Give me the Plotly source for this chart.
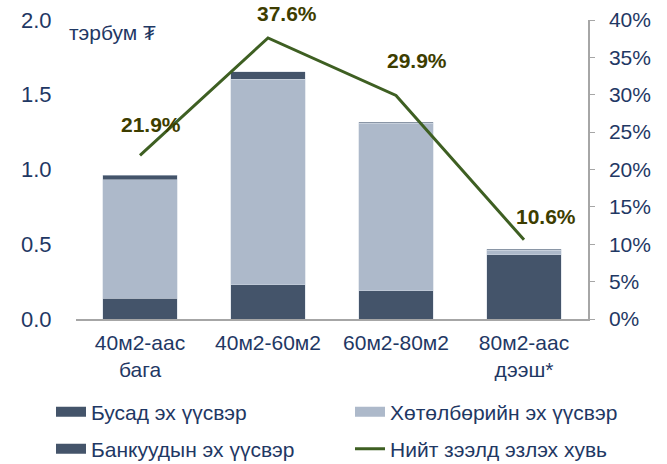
import plotly.graph_objects as go

categories = ["40м2-аас<br>бага", "40м2-60м2", "60м2-80м2", "80м2-аас<br>дээш*"]
bank_src = [0.14, 0.23, 0.19, 0.43]
program_src = [0.79, 1.375, 1.12, 0.03]
other_src = [0.03, 0.05, 0.006, 0.008]
share_pct = [0.219, 0.376, 0.299, 0.106]
share_labels = ["21.9%", "37.6%", "29.9%", "10.6%"]

names = {
    "other": "Бусад эх үүсвэр",
    "program": "Хөтөлбөрийн эх үүсвэр",
    "bank": "Банкуудын эх үүсвэр",
    "share": "Нийт зээлд эзлэх хувь",
}

DARK = "#44546a"
LIGHT = "#adb9ca"
GREEN = "#3e5f22"
LABEL = "#3d3d00"
NAVY = "#1f3864"
FONT = "Arial, Liberation Sans, sans-serif"

W, H = 667, 464

fig = go.Figure()
for vals, color in [(bank_src, DARK), (program_src, LIGHT), (other_src, DARK)]:
    fig.add_trace(go.Bar(x=categories, y=vals, marker=dict(color=color, line=dict(width=0.5, color="#d0d7e2")),
                         showlegend=False, yaxis="y", hoverinfo="skip"))

fig.add_trace(go.Scatter(x=categories, y=share_pct, mode="lines", line=dict(color=GREEN, width=3),
                         yaxis="y2", showlegend=False, hoverinfo="skip"))

# legend entries: one legend per entry, laid out as 2x2 grid
leg_pos = {"legend": (51, 412), "legend2": (350, 412), "legend3": (51, 449), "legend4": (350, 449)}
leg = [(names["other"], DARK, 10, "legend"), (names["program"], LIGHT, 10, "legend2"),
       (names["bank"], DARK, 10, "legend3"), (names["share"], GREEN, 3, "legend4")]
for nm, col, w, lg in leg:
    fig.add_trace(go.Scatter(x=[None], y=[None], mode="lines", name=nm, line=dict(color=col, width=w),
                             legend=lg, showlegend=True))

shifts = [(11, 31), (19, 24), (21, 35), (22, 23)]
for c, v, t, (dx, dy) in zip(categories, share_pct, share_labels, shifts):
    fig.add_annotation(x=c, y=v, yref="y2", text=f"<b>{t}</b>", showarrow=False,
                       xshift=dx, yshift=dy, font=dict(size=21, color=LABEL, family=FONT))

fig.add_annotation(x=(67 - 76) / 512, y=(319 - 33) / 299, xref="paper", yref="paper", text="тэрбум ₮",
                   showarrow=False, xanchor="left", yanchor="middle",
                   font=dict(size=21, color=NAVY, family=FONT))

legend_style = dict(orientation="h", xref="container", yref="container", xanchor="left", yanchor="middle",
                    font=dict(size=21, color=NAVY, family=FONT), traceorder="normal",
                    bgcolor="rgba(0,0,0,0)", borderwidth=0)
legends = {k: dict(x=px / W, y=1 - py / H, **legend_style) for k, (px, py) in leg_pos.items()}

fig.update_layout(
    width=W, height=H,
    margin=dict(l=76, r=79, t=20, b=145, autoexpand=False),
    barmode="stack", bargap=0.42,
    plot_bgcolor="white", paper_bgcolor="white",
    font=dict(family=FONT, color=NAVY, size=21),
    xaxis=dict(showline=True, linecolor="#a6a6a6", linewidth=1.5, ticks="", automargin=False,
               tickfont=dict(size=21, color=NAVY), showgrid=False, ticklabelstandoff=4),
    yaxis=dict(range=[0, 2], dtick=0.5, tickformat=".1f", showgrid=False, showline=False, automargin=False,
               zeroline=False, tickfont=dict(size=22, color=NAVY),
               ticks="outside", ticklen=19, tickcolor="rgba(0,0,0,0)"),
    yaxis2=dict(range=[0, 0.4], dtick=0.05, tickformat=".0%", overlaying="y", side="right",
                showgrid=False, showline=True, linecolor="#a6a6a6", linewidth=1.5, automargin=False,
                ticks="outside", ticklen=5, tickcolor="#a6a6a6", zeroline=False,
                tickfont=dict(size=21, color=NAVY), ticklabelstandoff=10),
    showlegend=True,
    **legends,
)

fig.write_html("out.html", config={"displayModeBar": False},
               post_script="document.body.style.margin='0';")
